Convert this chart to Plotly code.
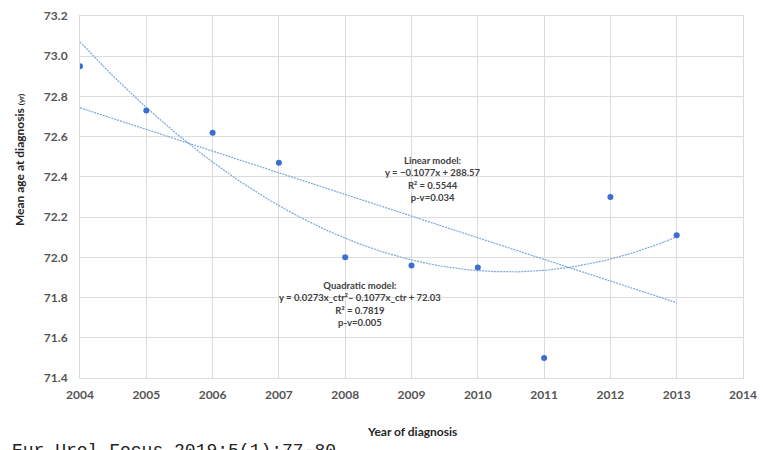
import numpy as np
import plotly.graph_objects as go

years = [2004, 2005, 2006, 2007, 2008, 2009, 2010, 2011, 2012, 2013]
mean_age = [72.95, 72.73, 72.62, 72.47, 72.00, 71.96, 71.95, 71.50, 72.30, 72.11]

x_ticks = list(range(2004, 2015))
y_ticks = [71.4, 71.6, 71.8, 72.0, 72.2, 72.4, 72.6, 72.8, 73.0, 73.2]

linear_label = "Linear model:<br>y = \u22120.1077x + 288.57<br>R\u00b2 = 0.5544<br>p-v=0.034"
quad_label = "Quadratic model:<br>y = 0.0273x_ctr\u00b2\u2013 0.1077x_ctr + 72.03<br>R\u00b2 = 0.7819<br>p-v=0.005"

xa = np.array(years, dtype=float)
ya = np.array(mean_age)
xc_mean = xa.mean()
lin = np.polyfit(xa, ya, 1)
quad = np.polyfit(xa - xc_mean, ya, 2)
xs = np.linspace(xa.min(), xa.max(), 200)

line_color = "#7aa6dc"
fig = go.Figure()
fig.add_trace(go.Scatter(x=xs, y=np.polyval(lin, xs), mode="lines",
                         line=dict(color=line_color, width=1.2, dash="2px,1px"),
                         hoverinfo="skip", showlegend=False))
fig.add_trace(go.Scatter(x=xs, y=np.polyval(quad, xs - xc_mean), mode="lines",
                         line=dict(color=line_color, width=1.2, dash="2px,1px"),
                         hoverinfo="skip", showlegend=False))
fig.add_trace(go.Scatter(x=years, y=mean_age, mode="markers",
                         marker=dict(color="#3a6fd0", size=6),
                         showlegend=False))

tick_font = dict(family="Lato", size=12, color="#555555", weight="bold")
fig.update_layout(
    width=763, height=450,
    margin=dict(l=80, r=20, t=16, b=72, autoexpand=False),
    paper_bgcolor="white", plot_bgcolor="white",
    xaxis=dict(range=[2004, 2014], tickvals=x_ticks, ticktext=[str(v) for v in x_ticks],
               showgrid=True, gridcolor="#dcdcdc", gridwidth=1,
               showline=True, linecolor="#dcdcdc", mirror=True, zeroline=False,
               ticks="", tickfont=tick_font, ticklabelstandoff=6),
    yaxis=dict(range=[71.4, 73.2], tickvals=y_ticks, ticktext=[f"{v:.1f}" for v in y_ticks],
               showgrid=True, gridcolor="#dcdcdc", gridwidth=1,
               showline=True, linecolor="#dcdcdc", mirror=True, zeroline=False,
               ticks="", tickfont=tick_font, ticklabelstandoff=9),
    font=dict(family="Lato"),
)

ann_font = dict(family="Lato", size=9.5, color="#404040", weight="bold")
fig.add_annotation(x=2009.33, y=72.389, xref="x", yref="y", text=linear_label,
                   showarrow=False, font=ann_font, align="center",
                   xanchor="center", yanchor="middle")
fig.add_annotation(x=2008.22, y=71.77, xref="x", yref="y", text=quad_label,
                   showarrow=False, font=ann_font, align="center",
                   xanchor="center", yanchor="middle")

fig.add_annotation(x=0.5, y=-0.149, xref="paper", yref="paper",
                   xanchor="center", yanchor="middle",
                   text="<b>Year of diagnosis</b>", showarrow=False,
                   font=dict(family="Lato", size=12, color="#262626"))
fig.add_annotation(x=-0.092, y=0.602, xref="paper", yref="paper", textangle=-90,
                   xanchor="center", yanchor="middle",
                   text="<b>Mean age at diagnosis <span style='font-size:8px'>(yr)</span></b>",
                   showarrow=False, font=dict(family="Lato", size=12, color="#262626"))
fig.add_annotation(x=-0.1056, y=-0.1685, xref="paper", yref="paper",
                   xanchor="left", yanchor="top",
                   text="Eur Urol Focus 2019;5(1):77-80", showarrow=False,
                   font=dict(family="Liberation Mono", size=18, color="#222222"))

fig.write_html("out.html")
